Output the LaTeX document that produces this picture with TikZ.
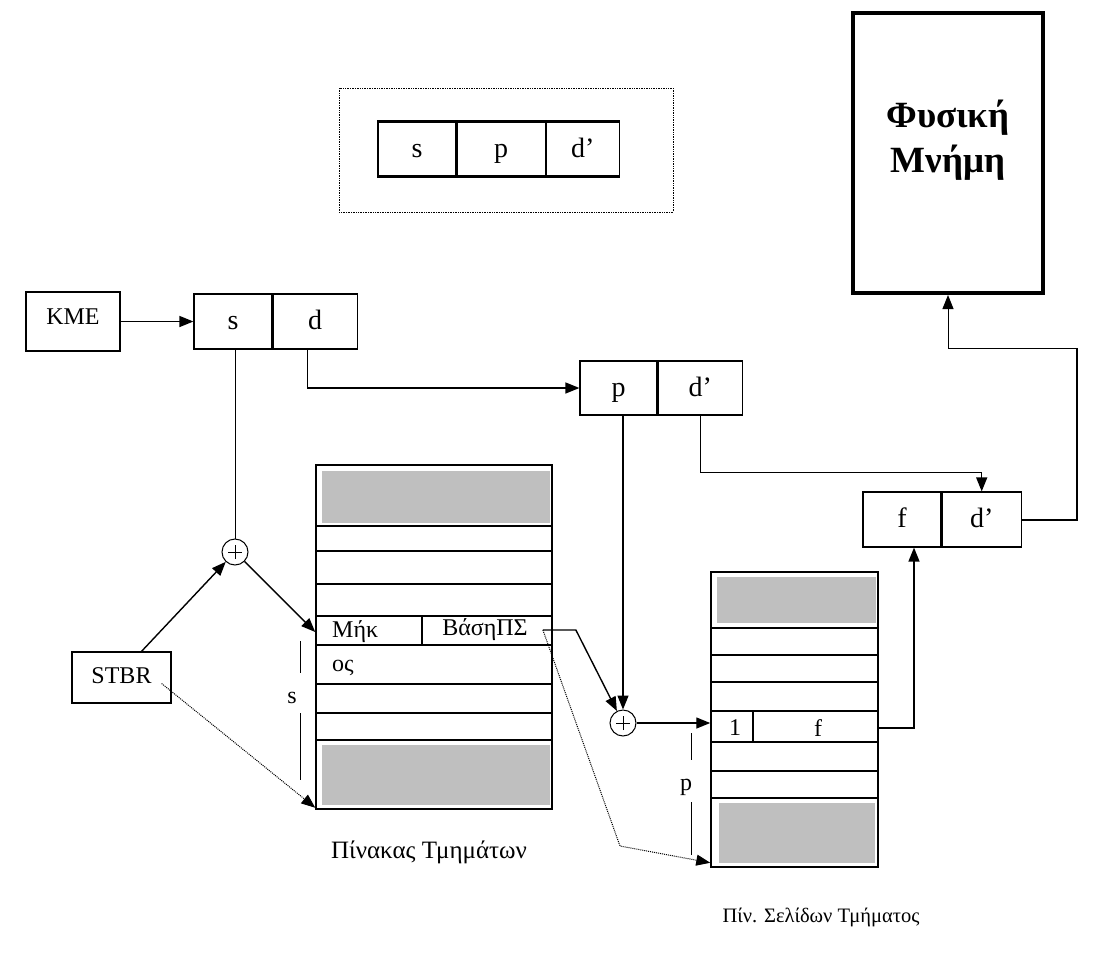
\documentclass[tikz,border=0pt]{standalone}
\usepackage{fontspec}
\setmainfont{Liberation Serif}
\usetikzlibrary{arrows.meta,positioning}

\tikzset{
    cell/.style={draw, line width=1.2pt, minimum height=55pt, inner sep=0pt,
        text height=19pt, text depth=3pt, font=\fontsize{28}{32}\selectfont},
    txt/.style={inner sep=1pt, font=\fontsize{24}{28}\selectfont},
    celltxt/.style={inner sep=1pt, font=\fontsize{24}{28}\selectfont},
    sumnode/.style={draw, circle, line width=1pt, minimum size=26pt, inner sep=0pt,
        path picture={
            \draw[line width=0.6pt] ([xshift=-7pt]path picture bounding box.center) -- ([xshift=7pt]path picture bounding box.center);
            \draw[line width=0.6pt] ([yshift=-7pt]path picture bounding box.center) -- ([yshift=7pt]path picture bounding box.center);
        }},
    conn/.style={line width=1.4pt, ->},
    thinline/.style={line width=0.9pt},
    pointer/.style={densely dotted, line width=1pt, ->},
    row/.style={line width=1.3pt},
    shade/.style={fill=gray!50}
}

\begin{document}
\begin{tikzpicture}[x=1pt, y=-1pt, >={Triangle[length=14pt,width=11pt]}]
    \useasboundingbox (0,0) rectangle (1104,954);
    % Formato de la direccion
    \draw[densely dotted, line width=0.7pt] (339,88) rectangle (673,212);
    \node[cell, minimum width=78pt, minimum height=54pt] (fs) at (417,149) {s};
    \node[cell, minimum width=88pt, minimum height=54pt, right=0pt of fs] (fp) {p};
    \node[cell, minimum width=73pt, minimum height=54pt, right=0pt of fp] (fdp) {d’};
    \draw[line width=2.2pt] (fs.north west) -- (fdp.north east);
    \draw[line width=2.2pt] (fs.south west) -- (fdp.south east);
    % Memoria fisica
    \node[draw, line width=4pt, minimum width=190pt, minimum height=280pt] (mem) at (948,153) {};
    \node[align=center, font=\bfseries\fontsize{37}{45}\selectfont] (memlbl) at (948,140) {Φυσική\\Μνήμη};
    % Direcciones
    \node[cell, minimum width=94pt, minimum height=59pt, text height=16pt, text depth=11pt,
        font=\fontsize{24}{28}\selectfont] (kme) at (73,321.5) {ΚΜΕ};
    \node[cell, minimum width=78pt] (s) at (233,321.5) {s};
    \node[cell, minimum width=84pt, right=0pt of s] (d) {d};
    \node[cell, minimum width=77pt, minimum height=54pt] (p) at (618.5,388) {p};
    \node[cell, minimum width=84pt, minimum height=54pt, right=0pt of p] (dp) {d’};
    \node[cell, minimum width=78pt] (f) at (902,519.5) {f};
    \node[cell, minimum width=79pt, right=0pt of f] (fd) {d’};
    \node[cell, minimum width=99pt, minimum height=51pt, text height=17pt, text depth=6pt,
        font=\fontsize{24}{28}\selectfont] (stbr) at (121.5,677.5) {STBR};
    \node[sumnode] (sumA) at (235,552) {};
    \node[sumnode] (sumB) at (623,723) {};
    % Tabla de segmentos
    \node[draw, line width=1.5pt, minimum width=236pt, minimum height=344pt] (segtab) at (434,637) {};
    \fill[shade] (322,471) rectangle (550,523);
    \fill[shade] (322,745) rectangle (550,805);
    \foreach \y in {526,551,584,616,645,684,713,740}{
        \draw[row] (316,\y) -- (552,\y);
    }
    \draw[row] (422,616) -- (422,645);
    \node[celltxt, anchor=west] (len) at (331,632) {Μήκ};
    \node[celltxt] (base) at (485,630) {ΒάσηΠΣ};
    \node[celltxt, anchor=west] (os) at (331,668) {ος};
    \node[txt] (slbl) at (292,698) {s};
    \draw[thinline] (300,641) -- (300,673);
    \draw[thinline] (300,713) -- (300,780);
    \node[txt, font=\fontsize{25}{29}\selectfont] (segcap) at (429,852) {Πίνακας Τμημάτων};
    % Tabla de paginas
    \node[draw, line width=1.5pt, minimum width=167pt, minimum height=295pt] (pgtab) at (794.5,719.5) {};
    \fill[shade] (717,577) rectangle (876,623);
    \fill[shade] (719,803) rectangle (875,863);
    \foreach \y in {628,655,682,711,742,771,798}{
        \draw[row] (711,\y) -- (878,\y);
    }
    \draw[row] (753,711) -- (753,742);
    \node[txt] (one) at (735,728) {1};
    \node[txt] (frame) at (818,728) {f};
    \node[txt] (plbl) at (686,787) {p};
    \draw[thinline] (691,733) -- (691,760);
    \draw[thinline] (691,802) -- (691,855);
    \node[txt, font=\fontsize{20.5}{24}\selectfont] (pgcap) at (821,917) {Πίν. Σελίδων Τμήματος};
    % Conexiones
    \coordinate (kink) at (620,846);
    \coordinate (turn) at (1077,348);
    \draw[conn] (kme) -- (s);
    \draw[thinline] (s.south -| sumA) -- (sumA);
    \draw[conn] ([xshift=20pt]stbr.north) -- (sumA);
    \draw[conn] (sumA) -- (segtab.west |- len);
    \draw[pointer] ([xshift=-10pt,yshift=-6pt]stbr.east) -- ([yshift=2pt]segtab.south west);
    \draw[conn] ([xshift=-8pt]d.south) |- (p);
    \draw[conn] (p.south -| sumB) -- (sumB);
    \draw[conn] (dp.south) -- ++(0,57) -| (fd);
    \draw[conn] ([xshift=14pt]base.east) -- ++(33,0) -- (sumB);
    \draw[pointer] ([xshift=14pt]base.east) -- (kink) -- ([yshift=5pt]pgtab.south west);
    \draw[conn] (sumB) -- (pgtab.west |- sumB);
    \draw[conn] (pgtab.east |- one) -| ([xshift=12pt]f.south);
    \draw[line width=2pt] (fd.east) -| (turn);
    \draw[thinline, ->] (turn) -| (mem.south);
\end{tikzpicture}
\end{document}
